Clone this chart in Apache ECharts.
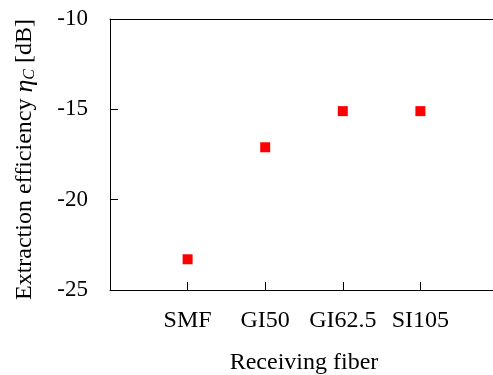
<!DOCTYPE html>
<html>
<head>
<meta charset="utf-8">
<script src="https://cdn.jsdelivr.net/npm/echarts@6/dist/echarts.min.js"></script>
<style>
  html, body { margin: 0; padding: 0; background: #fff; }
  #chart { width: 493px; height: 375px; }
</style>
</head>
<body>
<div id="chart"></div>
<script>
// 接收光纤类别
var fibers = ['SMF', 'GI50', 'GI62.5', 'SI105'];
// 提取效率 (dB)
var efficiency = [-23.3, -17.1, -15.1, -15.1];
// y轴刻度
var yTicks = [-25, -20, -15, -10];

var font = 'Liberation Serif, Times New Roman, serif';

var points = fibers.map(function (name, i) { return [i + 1, efficiency[i]]; });

var option = {
    animation: false,
    grid: {
        left: 110,
        top: 19,
        bottom: 85,
        right: -5,
        outerBoundsMode: 'none',
        containLabel: false
    },
    xAxis: [{
        type: 'value',
        min: 0,
        max: fibers.length + 1,
        interval: 1,
        splitLine: { show: false },
        axisLine: { lineStyle: { color: '#000', width: 1 } },
        axisTick: { inside: true, length: 8, lineStyle: { color: '#000' } },
        axisLabel: {
            color: '#000',
            fontFamily: font,
            fontSize: 24,
            margin: 19,
            formatter: function (v) { return fibers[v - 1] || ''; }
        },
        name: 'Receiving fiber',
        nameLocation: 'middle',
        nameGap: 61,
        nameTextStyle: { color: '#000', fontFamily: font, fontSize: 24 }
    }, {
        // 顶部边框线
        type: 'value',
        position: 'top',
        min: 0,
        max: fibers.length + 1,
        splitLine: { show: false },
        axisLine: { lineStyle: { color: '#000', width: 1 } },
        axisTick: { show: false },
        axisLabel: { show: false }
    }],
    yAxis: {
        type: 'value',
        min: yTicks[0],
        max: yTicks[yTicks.length - 1],
        interval: 5,
        splitLine: { show: false },
        axisLine: { show: true, lineStyle: { color: '#000', width: 1 } },
        axisTick: { inside: true, length: 8, lineStyle: { color: '#000' } },
        axisLabel: { color: '#000', fontFamily: font, fontSize: 23, margin: 22 },
        name: '{n|Extraction efficiency }{i|η}{s|C}{n| [dB]}',
        nameLocation: 'middle',
        nameGap: 72,
        nameTextStyle: {
            color: '#000',
            padding: [0, 10, 0, 0],
            rich: {
                n: { fontFamily: font, fontSize: 24, color: '#000' },
                i: { fontFamily: font, fontSize: 26, fontStyle: 'italic', color: '#000' },
                s: { fontFamily: font, fontSize: 16, fontStyle: 'italic', color: '#000', verticalAlign: 'bottom', padding: [9, 0, 0, 0] }
            }
        }
    },
    series: [{
        type: 'scatter',
        data: points,
        symbol: 'rect',
        symbolSize: 10,
        itemStyle: { color: '#ff0000', opacity: 1 }
    }]
};

var chart = echarts.init(document.getElementById('chart'));
chart.setOption(option);
</script>
</body>
</html>
